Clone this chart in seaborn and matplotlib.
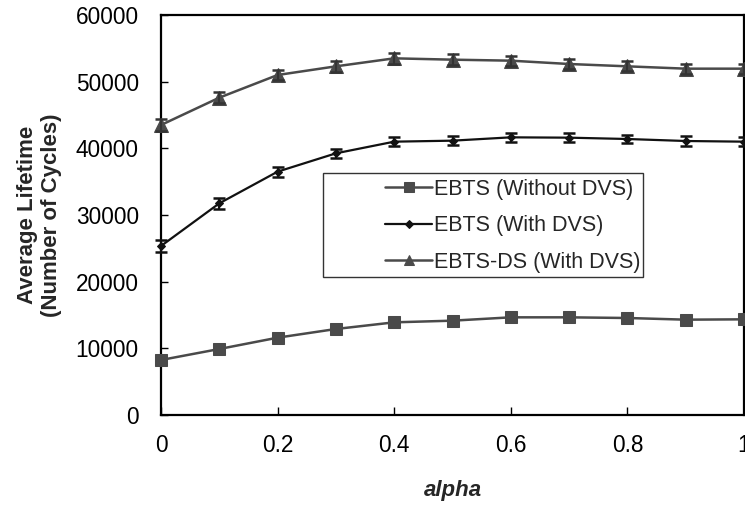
import matplotlib
matplotlib.use("Agg")
import matplotlib.pyplot as plt
from matplotlib.patches import Rectangle
import numpy as np
import pandas as pd
import seaborn as sns

# alpha sweep
alpha = [0.0, 0.1, 0.2, 0.3, 0.4, 0.5, 0.6, 0.7, 0.8, 0.9, 1.0]

# average lifetime (number of cycles)
ebts_no_dvs = [8250, 9900, 11600, 12900, 13900, 14150, 14650, 14650, 14550, 14300, 14350]
ebts_dvs = [25350, 31750, 36500, 39250, 41000, 41150, 41650, 41600, 41400, 41100, 41000]
ebts_ds_dvs = [43500, 47600, 51000, 52300, 53500, 53300, 53150, 52650, 52300, 51950, 51950]

# error bar half-widths
err_dvs = [850, 850, 750, 700, 700, 700, 650, 700, 650, 700, 650]
err_ds_dvs = [850, 850, 800, 800, 850, 800, 750, 750, 750, 750, 750]

series_names = ["EBTS (Without DVS)", "EBTS (With DVS)", "EBTS-DS (With DVS)"]

sns.set_theme(style="white")
plt.rcParams["font.family"] = ["Liberation Sans", "DejaVu Sans"]

df = pd.DataFrame({
    "alpha": alpha * 3,
    "life": ebts_no_dvs + ebts_dvs + ebts_ds_dvs,
    "series": [series_names[0]] * 11 + [series_names[1]] * 11 + [series_names[2]] * 11,
})

fig = plt.figure(figsize=(7.45, 5.07), dpi=100)
ax = fig.add_axes([161 / 745, 92 / 507, 583 / 745, 400 / 507])

styles = {
    series_names[0]: dict(color="#4a4a4a", marker="s", ms=9, lw=1.8),
    series_names[1]: dict(color="#111111", marker="D", ms=4.5, lw=1.6),
    series_names[2]: dict(color="#4a4a4a", marker="^", ms=9.5, lw=1.8),
}

for name in series_names:
    st = styles[name]
    sub = df[df["series"] == name]
    sns.lineplot(data=sub, x="alpha", y="life", ax=ax, color=st["color"],
                 marker=st["marker"], markersize=st["ms"], linewidth=st["lw"],
                 markeredgecolor=st["color"], markerfacecolor=st["color"],
                 label=name, legend=False, clip_on=False, zorder=3)

ax.errorbar(alpha, ebts_dvs, yerr=err_dvs, fmt="none", ecolor="#111111",
            elinewidth=1.5, capsize=4, capthick=1.8, zorder=4, clip_on=False)
ax.errorbar(alpha, ebts_ds_dvs, yerr=err_ds_dvs, fmt="none", ecolor="#333333",
            elinewidth=1.5, capsize=4, capthick=1.8, zorder=4, clip_on=False)

ax.set_xlim(0, 1)
ax.set_ylim(0, 60000)
ax.set_xticks([0, 0.2, 0.4, 0.6, 0.8, 1.0])
ax.set_xticklabels(["0", "0.2", "0.4", "0.6", "0.8", "1"])
ax.set_yticks(range(0, 60001, 10000))
ax.set_yticklabels([str(v) for v in range(0, 60001, 10000)])

ax.tick_params(axis="x", direction="in", length=6, width=1, pad=14,
               labelsize=16.3, colors="black", bottom=True, top=False)
ax.tick_params(axis="y", direction="in", length=5, width=1, pad=16,
               labelsize=16.3, colors="black", left=True, right=False)

for sp in ax.spines.values():
    sp.set_visible(True)
    sp.set_color("black")
    sp.set_linewidth(1.6)

ax.set_xlabel("alpha", fontsize=16, fontweight="bold", fontstyle="italic", labelpad=16)
ax.set_ylabel("Average Lifetime\n(Number of Cycles)", fontsize=16,
              fontweight="bold", labelpad=10, linespacing=1.15)

# legend box drawn separately so the entries sit to its right side
ax.add_patch(Rectangle((0.278, 0.345), 0.549, 0.26, transform=ax.transAxes,
                       fill=True, facecolor="white", edgecolor="#333333",
                       linewidth=1.0, zorder=5))
handles, labels = ax.get_legend_handles_labels()
leg = ax.legend(handles, labels, loc="upper left", bbox_to_anchor=(0.384, 0.59),
                frameon=False, fontsize=15.5, handlelength=2.2, handletextpad=0.1,
                labelspacing=0.72, borderpad=0, borderaxespad=0)
leg.set_zorder(6)
for h in leg.legend_handles:
    h.set_markersize(h.get_markersize() * 0.8)

fig.savefig("out.png", dpi=100)
